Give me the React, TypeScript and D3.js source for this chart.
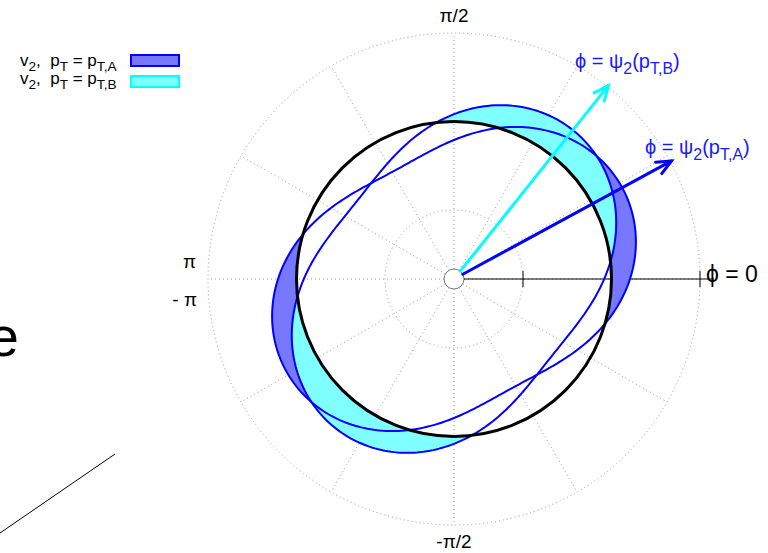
import * as d3 from "d3";

// v2 modulation, r(phi) = 1 + 2 v2 cos(2 (phi - psi2))
const seriesKeys = ["A", "B"];
const v2Values = [0.115, 0.112];
const psi2Deg = [28.5, 51.4];
const fillColors = ["#7777ff", "#80ffff"];
const legendBorders = ["#0000ff", "#00ffff"];
const arrowColors = ["#0000ff", "#00ffff"];

const rMax = 1.6;
const gridRings = [0.4];
const radialTicks = [0.4, 1.6];
const spokeDeg = d3.range(0, 360, 30);
const sampleDeg = d3.range(0, 361, 1);

const W = 768;
const H = 553;
const cx = 454;
const cy = 279;
const FONT = "'Liberation Sans', Arial, 'DejaVu Sans', sans-serif";

const rScale = d3.scaleLinear().domain([0, rMax]).range([10, 246]);
const toRad = (deg: number) => (deg * Math.PI) / 180;
// d3 radial angle: 0 at 12 o'clock, clockwise
const d3Angle = (deg: number) => Math.PI / 2 - toRad(deg);
const rOf = (deg: number, i: number) => 1 + 2 * v2Values[i] * Math.cos(2 * toRad(deg - psi2Deg[i]));
const pt = (deg: number, r: number): [number, number] => [
  cx + rScale(r) * Math.cos(toRad(deg)),
  cy - rScale(r) * Math.sin(toRad(deg)),
];

type Part = [string, boolean];

function Rich({ x, y, parts, size, fill = "#000", anchor = "start" }: { x: number; y: number; parts: Part[]; size: number; fill?: string; anchor?: string }) {
  let shift = 0;
  return (
    <text x={x} y={y} fontSize={size} fill={fill} fontFamily={FONT} textAnchor={anchor}>
      {parts.map(([t, sub], k) => {
        const target = sub ? size * 0.28 : 0;
        const dy = target - shift;
        shift = target;
        return (
          <tspan key={k} dy={dy} fontSize={sub ? size * 0.8 : size} style={{ whiteSpace: "pre" }}>
            {t}
          </tspan>
        );
      })}
    </text>
  );
}

const legendParts: Part[][] = [
  [["v", false], ["2", true], [",  p", false], ["T", true], [" = p", false], ["T,A", true]],
  [["v", false], ["2", true], [",  p", false], ["T", true], [" = p", false], ["T,B", true]],
];
const arrowLabelParts: Part[][] = [
  [["ϕ = ψ", false], ["2", true], ["(p", false], ["T,A", true], [")", false]],
  [["ϕ = ψ", false], ["2", true], ["(p", false], ["T,B", true], [")", false]],
];
const arrowLabelPos = [
  [645, 154],
  [575, 68],
];

export default function App() {
  const line = d3
    .lineRadial<number>()
    .angle((d) => d3Angle(d));
  const area = d3
    .areaRadial<number>()
    .angle((d) => d3Angle(d))
    .innerRadius(rScale(1));

  const arrowR = 1.61;

  return (
    <svg width={W} height={H} style={{ position: "absolute", left: 0, top: 0, background: "#fff" }}>
      {/* stray pieces at the left edge */}
      <text x={19} y={356} fontSize={56} textAnchor="end" fontFamily={FONT} fill="#000">
        e
      </text>
      <line x1={0} y1={533} x2={115} y2={454} stroke="#000" strokeWidth={1} />

      {/* grid */}
      <g stroke="#999" strokeWidth={1} fill="none" strokeDasharray="1,3">
        {gridRings.map((r) => (
          <circle key={r} cx={cx} cy={cy} r={rScale(r)} />
        ))}
        <circle cx={cx} cy={cy} r={rScale(rMax)} />
        {spokeDeg.map((a) => {
          const [x1, y1] = pt(a, 0);
          const [x2, y2] = pt(a, rMax);
          return <line key={a} x1={x1} y1={y1} x2={x2} y2={y2} />;
        })}
      </g>
      <circle cx={cx} cy={cy} r={rScale(0)} fill="#fff" stroke="#777" strokeWidth={1} />

      {/* radial axis */}
      <line x1={pt(0, 0)[0]} y1={cy} x2={pt(0, rMax)[0] + 14} y2={cy} stroke="#000" strokeWidth={1} />
      {radialTicks.map((t) => (
        <line key={t} x1={pt(0, t)[0]} x2={pt(0, t)[0]} y1={cy - 8} y2={cy + 8} stroke="#000" strokeWidth={1} />
      ))}

      {/* fills outside the unit circle */}
      <g transform={`translate(${cx},${cy})`}>
        {seriesKeys.map((k, i) => (
          <path
            key={k}
            d={area.outerRadius((d) => rScale(Math.max(1, rOf(d, i))))(sampleDeg) || ""}
            fill={fillColors[i]}
            stroke="none"
          />
        ))}
        {seriesKeys.map((k, i) => (
          <path
            key={k}
            d={line.radius((d) => rScale(rOf(d, i)))(sampleDeg) || ""}
            fill="none"
            stroke="#0000ff"
            strokeWidth={2}
          />
        ))}
        <circle r={rScale(1)} fill="none" stroke="#000" strokeWidth={3} />
      </g>

      {/* event-plane arrows */}
      {seriesKeys.map((k, i) => {
        const [x1, y1] = pt(psi2Deg[i], 0);
        const [x2, y2] = pt(psi2Deg[i], arrowR);
        const a = toRad(psi2Deg[i]);
        const head = 16;
        const spread = toRad(24);
        const h1: [number, number] = [x2 - head * Math.cos(a - spread), y2 + head * Math.sin(a - spread)];
        const h2: [number, number] = [x2 - head * Math.cos(a + spread), y2 + head * Math.sin(a + spread)];
        return (
          <g key={k} stroke={arrowColors[i]} strokeWidth={3} fill="none" strokeLinecap="round">
            <line x1={x1} y1={y1} x2={x2} y2={y2} />
            <polyline points={`${h1.join(",")} ${x2},${y2} ${h2.join(",")}`} />
          </g>
        );
      })}
      {seriesKeys.map((k, i) => (
        <Rich key={k} x={arrowLabelPos[i][0]} y={arrowLabelPos[i][1]} parts={arrowLabelParts[i]} size={20} fill="#1a1aff" />
      ))}

      {/* angle labels */}
      <text x={cx} y={22} fontSize={19} textAnchor="middle" fontFamily={FONT}>π/2</text>
      <text x={cx} y={548} fontSize={19} textAnchor="middle" fontFamily={FONT}>-π/2</text>
      <text x={196} y={268} fontSize={19} textAnchor="end" fontFamily={FONT}>π</text>
      <text x={197} y={306} fontSize={19} textAnchor="end" fontFamily={FONT}>- π</text>
      <text x={706} y={282} fontSize={23} fontFamily={FONT}>ϕ = 0</text>

      {/* legend */}
      {seriesKeys.map((k, i) => (
        <g key={k}>
          <Rich x={20} y={66 + i * 18} parts={legendParts[i]} size={17} />
          <rect x={131} y={55 + i * 21} width={48} height={11} fill={fillColors[i]} stroke={legendBorders[i]} strokeWidth={2} />
        </g>
      ))}
    </svg>
  );
}
